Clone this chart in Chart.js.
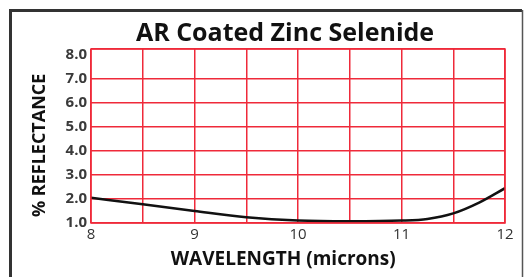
<!DOCTYPE html>
<html>
<head>
<meta charset="utf-8">
<script src="https://cdn.jsdelivr.net/npm/chart.js@4/dist/chart.umd.min.js"></script>
<style>
  html, body { margin: 0; padding: 0; background: #ffffff; }
  #wrap { position: relative; width: 524px; height: 277px; }
</style>
</head>
<body>
<div id="wrap"><canvas id="c" width="524" height="277"></canvas></div>
<script>
// Data
const wavelengths = [8, 8.5, 9, 9.5, 10, 10.5, 11, 11.25, 11.5, 11.75, 12];
const reflectance = [2.05, 1.78, 1.5, 1.24, 1.1, 1.07, 1.1, 1.17, 1.4, 1.85, 2.45];
const yTickValues = [1, 2, 3, 4, 5, 6, 7, 8];
const xGridValues = [8, 8.5, 9, 9.5, 10, 10.5, 11, 11.5, 12];
const xLabelValues = [8, 9, 10, 11, 12];
const chartTitle = 'AR Coated Zinc Selenide';
const xTitle = 'WAVELENGTH (microns)';
const yTitle = '% REFLECTANCE';

const RED = '#ef2a3a';
const NONE = 'rgba(255,255,255,0)';
const Y_TOP = 8.25;

const framePlugin = {
  id: 'frame',
  beforeDraw(chart) {
    const ctx = chart.ctx;
    ctx.save();
    ctx.fillStyle = '#ffffff';
    ctx.fillRect(0, 0, chart.width, chart.height);
    ctx.strokeStyle = '#333333';
    ctx.lineWidth = 3;
    ctx.beginPath();
    ctx.moveTo(10.5, chart.height + 5);
    ctx.lineTo(10.5, 10.5);
    ctx.lineTo(522, 10.5);
    ctx.stroke();
    ctx.strokeStyle = '#555555';
    ctx.lineWidth = 1.5;
    ctx.beginPath();
    ctx.moveTo(522.5, 10);
    ctx.lineTo(522.5, chart.height + 5);
    ctx.stroke();
    ctx.restore();
  },
  afterDatasetsDraw(chart) {
    const a = chart.chartArea;
    const ctx = chart.ctx;
    ctx.save();
    ctx.strokeStyle = RED;
    ctx.lineWidth = 1.5;
    ctx.strokeRect(a.left, a.top, a.right - a.left, a.bottom - a.top);
    ctx.restore();
  }
};

// grid colours per y tick: ticks 1..8 then top edge; no line at 8.0
const yGridColors = yTickValues.map(v => v === 8 ? NONE : RED).concat([RED]);

new Chart(document.getElementById('c'), {
  type: 'line',
  data: {
    datasets: [{
      data: wavelengths.map((x, i) => ({ x: x, y: reflectance[i] })),
      borderColor: '#111111',
      borderWidth: 2.5,
      pointRadius: 0,
      fill: false,
      cubicInterpolationMode: 'monotone'
    }]
  },
  plugins: [framePlugin],
  options: {
    responsive: false,
    animation: false,
    events: [],
    layout: { padding: { left: 0, right: 19, top: 0, bottom: 0 } },
    plugins: {
      legend: { display: false },
      tooltip: { enabled: false },
      title: {
        display: true,
        fullSize: false,
        text: chartTitle + '    ',
        color: '#111111',
        font: { family: 'Open Sans', size: 25, weight: 'bold' },
        padding: { top: 19, bottom: 0 }
      }
    },
    scales: {
      x: {
        type: 'linear',
        min: 8,
        max: 12,
        afterBuildTicks(scale) {
          scale.ticks = xGridValues.map(v => ({ value: v }));
        },
        afterFit(scale) { scale.height = 54; },
        ticks: {
          autoSkip: false,
          maxRotation: 0,
          padding: 3,
          color: '#333333',
          font: { family: 'Open Sans', size: 15 },
          callback: v => xLabelValues.includes(v) ? String(v) : ''
        },
        grid: { color: RED, lineWidth: 1.5, drawTicks: false },
        border: { display: false },
        title: {
          display: true,
          text: xTitle + '      ',
          color: '#111111',
          font: { family: 'Open Sans', size: 19, weight: 'bold' },
          padding: { top: 0, bottom: 6 }
        }
      },
      y: {
        type: 'linear',
        min: 1,
        max: Y_TOP,
        afterBuildTicks(scale) {
          scale.ticks = yTickValues.map(v => ({ value: v })).concat([{ value: Y_TOP }]);
        },
        afterFit(scale) { scale.width = 91; },
        ticks: {
          autoSkip: false,
          padding: 4,
          color: '#3a3a3a',
          font: { family: 'Open Sans', size: 15, weight: 'bold' },
          callback: v => yTickValues.includes(v) ? v.toFixed(1) : ''
        },
        grid: {
          color: yGridColors,
          lineWidth: 1.5,
          drawTicks: false
        },
        border: { display: false },
        title: {
          display: true,
          text: yTitle + '    ',
          color: '#111111',
          font: { family: 'Open Sans', size: 18, weight: 'bold' },
          padding: { top: 29, bottom: 0 }
        }
      }
    }
  }
});
</script>
</body>
</html>
